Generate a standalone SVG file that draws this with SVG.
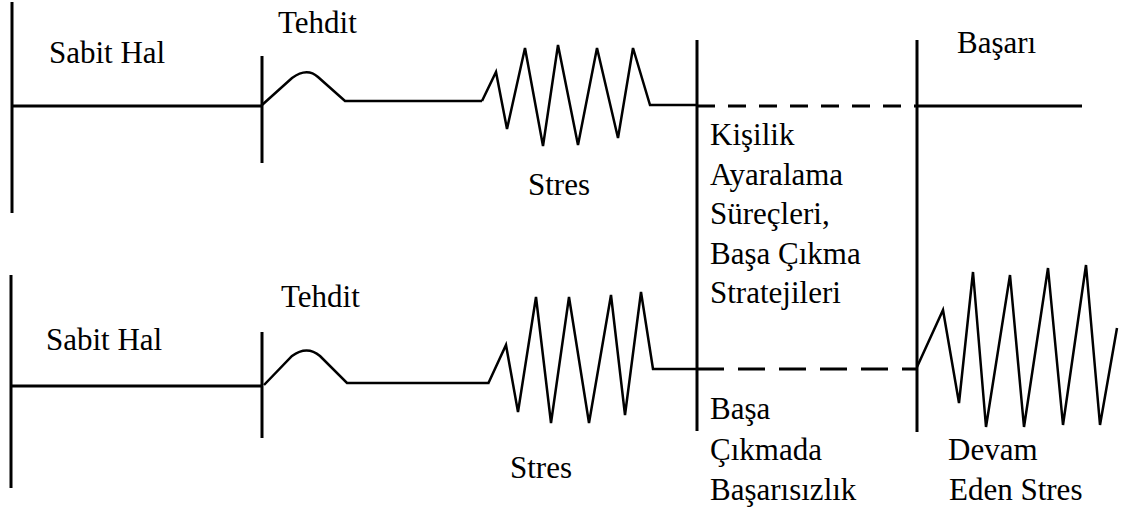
<svg xmlns="http://www.w3.org/2000/svg" width="1126" height="514" viewBox="0 0 1126 514">
  <style>
    .ln { stroke: #000; stroke-width: 3; fill: none; }
    .wave { stroke: #000; stroke-width: 2.5; fill: none; stroke-linejoin: miter; }
    .dash1 { stroke: #000; stroke-width: 3; fill: none; stroke-dasharray: 18 13; }
    .dash2 { stroke: #000; stroke-width: 3; fill: none; stroke-dasharray: 27 14; }
  </style>
  <rect width="1126" height="514" fill="#fff"/>

  <!-- dividers and timelines -->
  <g id="connectors">
    <!-- upper row -->
    <line class="ln" x1="12" y1="2" x2="12" y2="213"/>
    <line class="ln" x1="12" y1="106" x2="262" y2="106"/>
    <line class="ln" x1="262" y1="56" x2="262" y2="163"/>
    <path class="wave" d="M262 105 L292 78 Q307 67 318 77 L345 101 L482 101"/>
    <path class="wave" d="M482 101 L496 72 L507 129 L525 48 L543 146 L558 45 L578 145 L597 48 L618 138 L633 48 L650 105 L697 105"/>
    <line class="dash1" x1="697" y1="106" x2="917" y2="106"/>
    <line class="ln" x1="917" y1="106" x2="1082" y2="106"/>

    <!-- lower row -->
    <line class="ln" x1="11" y1="275" x2="11" y2="488"/>
    <line class="ln" x1="11" y1="386" x2="262" y2="386"/>
    <line class="ln" x1="262" y1="332" x2="262" y2="438"/>
    <path class="wave" d="M264 385 L292 356 Q307 345 320 356 L347 383 L488 383"/>
    <path class="wave" d="M488 384 L506 345 L518 412 L536 297 L551 423 L569 297 L589 423 L611 295 L625 415 L641 292 L653 369 L697 369"/>
    <line class="dash2" x1="697" y1="369" x2="917" y2="369"/>
    <path class="wave" d="M917 367 L943 310 L959 403 L973 272 L986 427 L1010 275 L1024 427 L1048 268 L1063 425 L1086 265 L1100 425 L1117 328"/>

    <!-- phase separators -->
    <line class="ln" x1="697" y1="40" x2="697" y2="431"/>
    <line class="ln" x1="917" y1="40" x2="917" y2="432"/>
  </g>

  <g font-family="Liberation Serif, DejaVu Serif, serif" font-size="31" fill="#000">
    <g id="steady-top"><text x="49" y="63">Sabit Hal</text></g>
    <g id="threat-top"><text x="278" y="33">Tehdit</text></g>
    <g id="stress-top"><text x="528" y="195">Stres</text></g>
    <g id="success"><text x="957" y="53">Başarı</text></g>

    <g id="coping">
      <text x="710" y="145">Kişilik</text>
      <text x="710" y="185">Ayaralama</text>
      <text x="710" y="224">Süreçleri,</text>
      <text x="710" y="264">Başa Çıkma</text>
      <text x="710" y="303">Stratejileri</text>
    </g>

    <g id="steady-bottom"><text x="46" y="350">Sabit Hal</text></g>
    <g id="threat-bottom"><text x="281" y="307">Tehdit</text></g>
    <g id="stress-bottom"><text x="510" y="478">Stres</text></g>

    <g id="failure">
      <text x="710" y="419">Başa</text>
      <text x="710" y="460">Çıkmada</text>
      <text x="710" y="500">Başarısızlık</text>
    </g>

    <g id="ongoing-stress">
      <text x="948" y="460">Devam</text>
      <text x="949" y="500">Eden Stres</text>
    </g>
  </g>
</svg>
